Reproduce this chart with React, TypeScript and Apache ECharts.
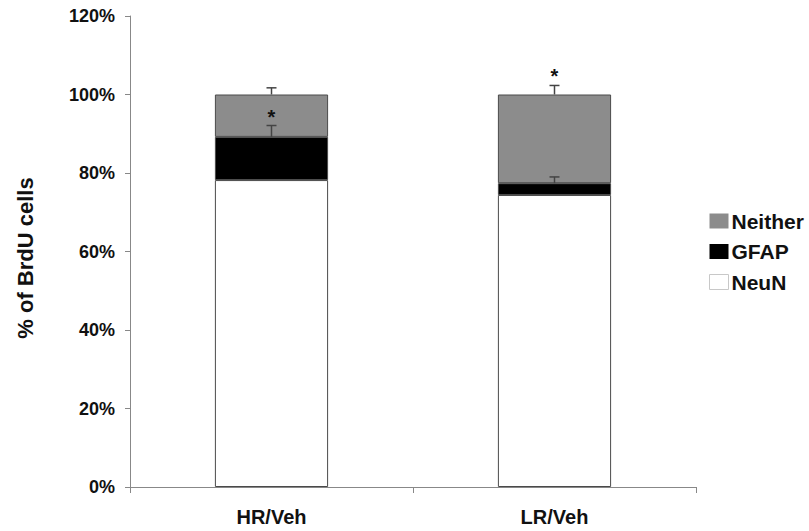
import React, { useEffect, useRef } from "react";
import * as echarts from "echarts";

const categories = ["HR/Veh", "LR/Veh"];
const neun = [78.2, 74.4];
const gfap = [11.0, 3.0];
const neither = [10.8, 22.6];
// error sizes above each segment top, and whether a significance star sits on it
const gfapErr = [2.9, 1.6];
const neitherErr = [1.7, 2.3];
const gfapStar = [true, false];
const neitherStar = [false, true];
const yTicks = [0, 20, 40, 60, 80, 100, 120];

const FONT = "'Liberation Sans', Arial, sans-serif";

export default function App() {
  const ref = useRef<HTMLDivElement>(null);
  useEffect(() => {
    if (!ref.current) return;
    const chart = echarts.init(ref.current, null, { renderer: "svg" });

    const gfapTop = neun.map((v, i) => v + gfap[i]);
    const neitherTop = gfapTop.map((v, i) => v + neither[i]);
    const errData = [
      ...categories.map((_, i) => [i, gfapTop[i], gfapErr[i], gfapStar[i] ? 1 : 0]),
      ...categories.map((_, i) => [i, neitherTop[i], neitherErr[i], neitherStar[i] ? 1 : 0]),
    ];

    const barStyle = (color: string) => ({
      color,
      borderColor: "#4a4a4a",
      borderWidth: 1,
    });

    chart.setOption({
      animation: false,
      grid: { left: 130, right: 113, top: 16, bottom: 44 },
      legend: {
        orient: "vertical",
        left: 709,
        top: 210.5,
        padding: 0,
        icon: "rect",
        itemWidth: 19,
        itemHeight: 15,
        itemGap: 9.5,
        data: [
          { name: "Neither", itemStyle: { borderWidth: 0 } },
          { name: "GFAP", itemStyle: { borderWidth: 0 } },
          { name: "NeuN", itemStyle: { borderColor: "#c8c8c8", borderWidth: 1 } },
        ],
        textStyle: {
          fontFamily: FONT,
          fontWeight: "bold",
          fontSize: 21,
          color: "#111",
          padding: [0, 0, 0, -2],
        },
      },
      graphic: [
        {
          type: "text",
          x: 25,
          y: 258,
          rotation: Math.PI / 2,
          style: {
            text: "% of BrdU cells",
            fontFamily: FONT,
            fontWeight: "bold",
            fontSize: 22,
            fill: "#111",
            align: "center",
            verticalAlign: "middle",
          },
        },
      ],
      xAxis: {
        type: "category",
        data: categories,
        axisLine: { lineStyle: { color: "#888", width: 1 } },
        axisTick: { show: true, length: 6, lineStyle: { color: "#888" } },
        axisLabel: { fontFamily: FONT, fontWeight: "bold", fontSize: 20, color: "#111", margin: 20 },
      },
      yAxis: {
        type: "value",
        min: 0,
        max: 120,
        interval: 20,
        axisLine: { show: true, lineStyle: { color: "#888", width: 1 } },
        axisTick: { show: true, length: 5, lineStyle: { color: "#888" } },
        splitLine: { show: false },
        axisLabel: {
          fontFamily: FONT,
          fontWeight: "bold",
          fontSize: 18,
          color: "#111",
          margin: 15,
          formatter: (v: number) => (yTicks.includes(v) ? v + "%" : ""),
        },
      },
      series: [
        {
          name: "NeuN",
          type: "bar",
          stack: "s",
          barWidth: "40%",
          data: neun,
          itemStyle: barStyle("#ffffff"),
        },
        {
          name: "GFAP",
          type: "bar",
          stack: "s",
          data: gfap,
          itemStyle: barStyle("#000000"),
        },
        {
          name: "Neither",
          type: "bar",
          stack: "s",
          data: neither,
          itemStyle: barStyle("#8c8c8c"),
        },
        {
          type: "custom",
          name: "err",
          data: errData,
          z: 10,
          renderItem: (params: any, api: any) => {
            const x = api.value(0);
            const top = api.value(1);
            const err = api.value(2);
            const star = api.value(3);
            const base = api.coord([x, top]);
            const hi = api.coord([x, top + err]);
            const cw = 5;
            const children: any[] = [
              { type: "line", shape: { x1: base[0], y1: base[1], x2: hi[0], y2: hi[1] }, style: { stroke: "#444", lineWidth: 1.5 } },
              { type: "line", shape: { x1: hi[0] - cw, y1: hi[1], x2: hi[0] + cw, y2: hi[1] }, style: { stroke: "#444", lineWidth: 1.5 } },
            ];
            if (star) {
              children.push({
                type: "text",
                x: hi[0],
                y: hi[1] + 1,
                style: {
                  text: "*",
                  fontFamily: FONT,
                  fontWeight: "bold",
                  fontSize: 20,
                  fill: "#111",
                  align: "center",
                  verticalAlign: "bottom",
                },
              });
            }
            return { type: "group", children };
          },
        },
      ],
    });
    return () => chart.dispose();
  }, []);
  return <div ref={ref} style={{ width: 809, height: 531, position: "absolute", left: 0, top: 0 }} />;
}
